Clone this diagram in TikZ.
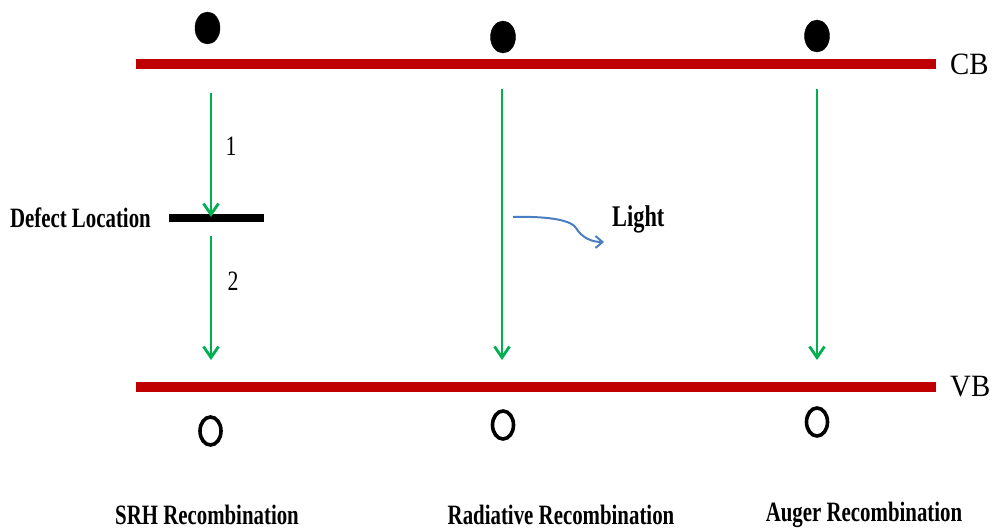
\documentclass[tikz,border=0pt]{standalone}
\usepackage{fontspec}
\setmainfont{Liberation Serif}
\newfontfamily\condbf[FakeStretch=0.745]{Liberation Serif Bold}
\newfontfamily\condrm[FakeStretch=0.78]{Liberation Serif}
\newfontfamily\bandrm[FakeStretch=0.93]{Liberation Serif}
\usetikzlibrary{arrows.meta}
\definecolor{bandred}{HTML}{C00000}
\definecolor{arrgreen}{HTML}{00B050}
\definecolor{lightblue}{HTML}{4A7EC0}
\tikzset{
  band/.style={draw=bandred, line width=10pt},
  trans/.style={draw=arrgreen, line width=2.8pt, -{Straight Barb[length=11pt,width=15pt,line width=2.8pt]}},
  electron/.style={fill=black, draw=black},
  hole/.style={draw=black, line width=3.6pt},
  lbl/.style={font=\condbf\fontsize{28}{30}\selectfont, inner sep=0pt},
  bandlbl/.style={font=\bandrm\fontsize{31}{33}\selectfont, inner sep=0pt, anchor=west},
  num/.style={font=\condrm\fontsize{28}{30}\selectfont, inner sep=0pt}
}
\begin{document}
\begin{tikzpicture}[x=1pt,y=-1pt]
\useasboundingbox (0,0) rectangle (995,529);
% bands
\coordinate (cbL) at (136,64); \coordinate (cbR) at (936,64);
\coordinate (vbL) at (136,387); \coordinate (vbR) at (936,387);
\draw[band] (cbL) -- (cbR);
\draw[band] (vbL) -- (vbR);
\node[bandlbl] (cb) at (950,64) {CB};
\node[bandlbl] (vb) at (950,387) {VB};
% electrons
\fill[electron] (207.5,28) ellipse [x radius=12.5, y radius=16];
\fill[electron] (503,37) ellipse [x radius=12.5, y radius=16];
\fill[electron] (817,36) ellipse [x radius=12.5, y radius=16];
% holes
\draw[hole] (210.5,431) ellipse [x radius=10.5, y radius=14];
\draw[hole] (503,425) ellipse [x radius=10.5, y radius=14];
\draw[hole] (817,422) ellipse [x radius=10.5, y radius=14];
% defect level
\coordinate (dL) at (169,218); \coordinate (dR) at (264,218);
\draw[line width=8pt] (dL) -- (dR);
\node[lbl, anchor=east] (defect) at (151,218) {Defect Location};
% SRH transitions
\coordinate (s1a) at (211,93); \coordinate (s1b) at (211,217);
\coordinate (s2a) at (211,236); \coordinate (s2b) at (211,360);
\draw[trans] (s1a) -- (s1b);
\draw[trans] (s2a) -- (s2b);
\node[num] (n1) at (231,146) {1};
\node[num] (n2) at (233,281) {2};
% radiative
\coordinate (ra) at (502,89); \coordinate (rb) at (502,360);
\draw[trans] (ra) -- (rb);
\coordinate (la) at (513,217); \coordinate (lb) at (604,242);
\draw[draw=lightblue, line width=2pt, -{Straight Barb[length=7pt,width=12pt,line width=2pt]}]
  (la) .. controls (552,216) and (572,221) .. (576,228)
  .. controls (582,238) and (592,242) .. (lb);
\node[lbl, font=\condbf\fontsize{30}{32}\selectfont, anchor=west] (light) at (612,219) {Light};
% auger
\coordinate (aa) at (817,89); \coordinate (ab) at (817,360);
\draw[trans] (aa) -- (ab);
% bottom labels
\node[lbl] (srh) at (207,515) {SRH Recombination};
\node[lbl] (rad) at (561,515) {Radiative Recombination};
\node[lbl] (aug) at (864,515) {Auger Recombination};
\end{tikzpicture}
\end{document}
